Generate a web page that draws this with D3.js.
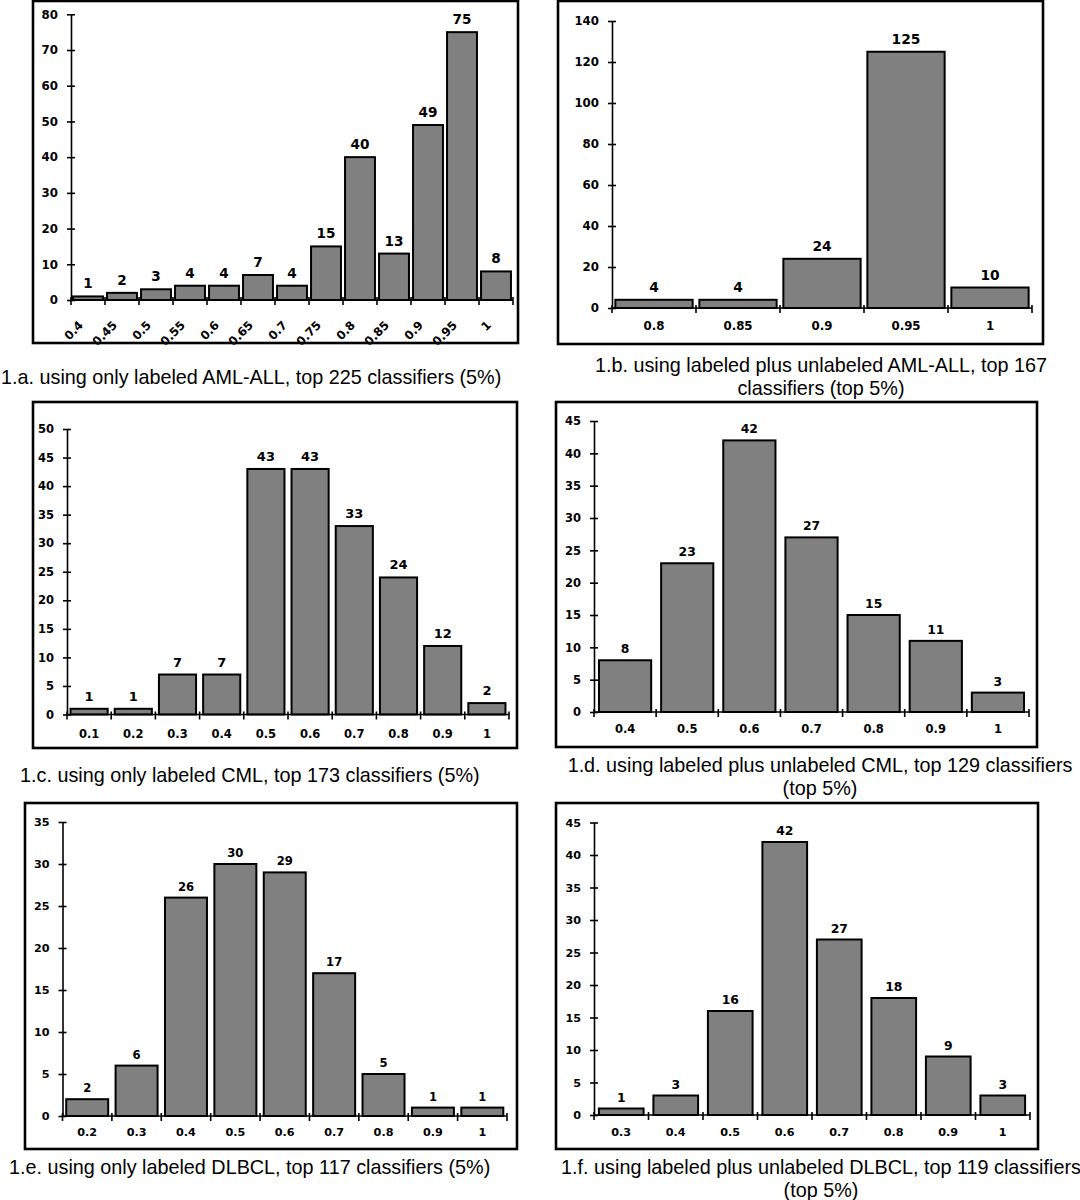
<!DOCTYPE html>
<html>
<head>
<meta charset="utf-8">
<script src="https://cdn.jsdelivr.net/npm/d3@7"></script>
<style>
  html, body { margin: 0; padding: 0; background: #fff; }
  svg { display: block; }
</style>
</head>
<body>
<div id="chart"></div>
<script>
// ---- Data ----
const catsA = ["0.4","0.45","0.5","0.55","0.6","0.65","0.7","0.75","0.8","0.85","0.9","0.95","1"];
const valsA = [1,2,3,4,4,7,4,15,40,13,49,75,8];
const ticksA = [0,10,20,30,40,50,60,70,80];
const captionA = ["1.a. using only labeled AML-ALL, top 225 classifiers (5%)"];

const catsB = ["0.8","0.85","0.9","0.95","1"];
const valsB = [4,4,24,125,10];
const ticksB = [0,20,40,60,80,100,120,140];
const captionB = ["1.b. using labeled plus unlabeled AML-ALL, top 167", "classifiers (top 5%)"];

const catsC = ["0.1","0.2","0.3","0.4","0.5","0.6","0.7","0.8","0.9","1"];
const valsC = [1,1,7,7,43,43,33,24,12,2];
const ticksC = [0,5,10,15,20,25,30,35,40,45,50];
const captionC = ["1.c. using only labeled CML, top 173 classifiers (5%)"];

const catsD = ["0.4","0.5","0.6","0.7","0.8","0.9","1"];
const valsD = [8,23,42,27,15,11,3];
const ticksD = [0,5,10,15,20,25,30,35,40,45];
const captionD = ["1.d. using labeled plus unlabeled CML, top 129 classifiers", "(top 5%)"];

const catsE = ["0.2","0.3","0.4","0.5","0.6","0.7","0.8","0.9","1"];
const valsE = [2,6,26,30,29,17,5,1,1];
const ticksE = [0,5,10,15,20,25,30,35];
const captionE = ["1.e. using only labeled DLBCL, top 117 classifiers (5%)"];

const catsF = ["0.3","0.4","0.5","0.6","0.7","0.8","0.9","1"];
const valsF = [1,3,16,42,27,18,9,3];
const ticksF = [0,5,10,15,20,25,30,35,40,45];
const captionF = ["1.f. using labeled plus unlabeled DLBCL, top 119 classifiers", "(top 5%)"];

// ---- Layout (positions / styles) ----
const panels = [
  {cats: catsA, vals: valsA, ticks: ticksA, caption: captionA,
   box: [33, 1, 518, 343], x0: 71, x1: 513, yBase: 300, yTop: 14.3, pad: 0.12,
   tickFont: 11.8, valFont: 13.6, valOff: 8, rotate: true,
   capAnchor: "start", capX: 1, capY: [384]},
  {cats: catsB, vals: valsB, ticks: ticksB, caption: captionB,
   box: [558, 1, 1043, 344], x0: 612, x1: 1032, yBase: 308, yTop: 21, pad: 0.08,
   tickFont: 11.8, valFont: 13.8, valOff: 8, rotate: false, labelY: 330,
   capAnchor: "middle", capX: 821, capY: [372, 395]},
  {cats: catsC, vals: valsC, ticks: ticksC, caption: captionC,
   box: [33, 402, 517, 748], x0: 67, x1: 509, yBase: 714.5, yTop: 429, pad: 0.16,
   tickFont: 11.5, valFont: 13, valOff: 8, rotate: false, labelY: 738,
   capAnchor: "start", capX: 20, capY: [782]},
  {cats: catsD, vals: valsD, ticks: ticksD, caption: captionD,
   box: [556, 402, 1037, 747], x0: 594, x1: 1029, yBase: 712, yTop: 421, pad: 0.16,
   tickFont: 11.5, valFont: 12.4, valOff: 7, rotate: false, labelY: 733,
   capAnchor: "middle", capX: 820, capY: [772, 795]},
  {cats: catsE, vals: valsE, ticks: ticksE, caption: captionE,
   box: [25, 803, 517, 1149], x0: 62.5, x1: 507, yBase: 1116, yTop: 822, pad: 0.15,
   tickFont: 11.2, valFont: 11.6, valOff: 7, rotate: false, labelY: 1136,
   capAnchor: "start", capX: 9, capY: [1174]},
  {cats: catsF, vals: valsF, ticks: ticksF, caption: captionF,
   box: [556, 803, 1038, 1149], x0: 594, x1: 1030, yBase: 1115, yTop: 822.5, pad: 0.18,
   tickFont: 11.2, valFont: 12.4, valOff: 7, rotate: false, labelY: 1136,
   capAnchor: "middle", capX: 821, capY: [1174, 1197]}
];

const W = 1080, H = 1200;
const svg = d3.select("#chart").append("svg").attr("width", W).attr("height", H);
const boldFont = "'DejaVu Sans', Verdana, sans-serif";
const capFont = "'Liberation Sans', Arial, sans-serif";

panels.forEach(p => {
  const g = svg.append("g");
  // frame
  g.append("rect")
    .attr("x", p.box[0]).attr("y", p.box[1])
    .attr("width", p.box[2] - p.box[0]).attr("height", p.box[3] - p.box[1])
    .attr("fill", "none").attr("stroke", "#000").attr("stroke-width", 2.6);

  const x = d3.scaleBand().domain(p.cats).range([p.x0, p.x1])
    .paddingInner(p.pad).paddingOuter(p.pad / 2);
  const y = d3.scaleLinear().domain([0, d3.max(p.ticks)]).range([p.yBase, p.yTop]);

  // bars
  g.selectAll("rect.bar").data(p.cats).join("rect")
    .attr("class", "bar")
    .attr("x", d => x(d))
    .attr("y", (d, i) => y(p.vals[i]))
    .attr("width", x.bandwidth())
    .attr("height", (d, i) => y(0) - y(p.vals[i]))
    .attr("fill", "#808080").attr("stroke", "#000").attr("stroke-width", 2);

  // value labels
  g.selectAll("text.val").data(p.cats).join("text")
    .attr("class", "val")
    .attr("x", d => x(d) + x.bandwidth() / 2)
    .attr("y", (d, i) => y(p.vals[i]) - p.valOff)
    .attr("text-anchor", "middle")
    .attr("font-family", boldFont).attr("font-weight", "bold")
    .attr("font-size", p.valFont)
    .text((d, i) => p.vals[i]);

  // y axis
  const ya = g.append("g").attr("transform", `translate(${p.x0},0)`)
    .call(d3.axisLeft(y).tickValues(p.ticks).tickSize(4).tickSizeOuter(0).tickPadding(9));
  ya.select(".domain").attr("stroke", "#000").attr("stroke-width", 1.6);
  ya.selectAll(".tick line").attr("x1", 4).attr("stroke", "#000").attr("stroke-width", 1.6);
  ya.selectAll(".tick text")
    .attr("font-family", boldFont).attr("font-weight", "bold")
    .attr("font-size", p.tickFont).attr("fill", "#000");

  // x axis line + boundary ticks
  const n = p.cats.length;
  const bounds = d3.range(n + 1).map(i => p.x0 + i * x.step());
  g.append("line")
    .attr("x1", p.x0).attr("x2", p.x1).attr("y1", y(0)).attr("y2", y(0))
    .attr("stroke", "#000").attr("stroke-width", 1.6);
  g.selectAll("line.xt").data(bounds).join("line")
    .attr("class", "xt")
    .attr("x1", d => d).attr("x2", d => d)
    .attr("y1", y(0) - 3).attr("y2", y(0) + 5)
    .attr("stroke", "#000").attr("stroke-width", 1.6);

  // x labels
  const xl = g.selectAll("text.xl").data(p.cats).join("text")
    .attr("class", "xl")
    .attr("font-family", boldFont).attr("font-weight", "bold")
    .attr("font-size", p.tickFont)
    .text(d => d);
  if (p.rotate) {
    xl.attr("text-anchor", "end")
      .attr("transform", d => `translate(${x(d) + x.bandwidth() / 2 - 7},${y(0) + 23}) rotate(-45)`)
      .attr("dy", "0.35em");
  } else {
    xl.attr("text-anchor", "middle")
      .attr("x", d => x(d) + x.bandwidth() / 2)
      .attr("y", p.labelY);
  }

  // caption
  g.selectAll("text.cap").data(p.caption).join("text")
    .attr("class", "cap")
    .attr("x", p.capX)
    .attr("y", (d, i) => p.capY[i])
    .attr("text-anchor", p.capAnchor)
    .attr("font-family", capFont)
    .attr("font-size", 19.8)
    .attr("fill", "#000")
    .text(d => d);
});
</script>
</body>
</html>
